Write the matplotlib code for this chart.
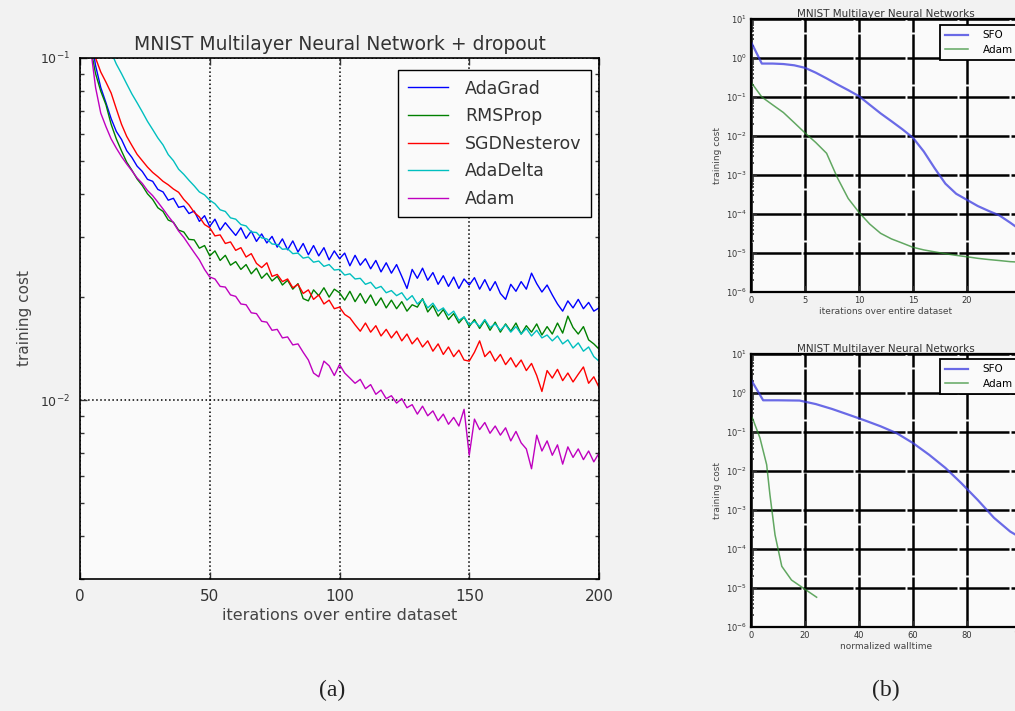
import numpy as np
import matplotlib
matplotlib.use("Agg")
import matplotlib.pyplot as plt
from matplotlib.ticker import LogLocator, NullFormatter

# (a) training cost per epoch, values in units of 1e-3, sampled every 2 epochs
epochs = np.arange(0, 201, 2)

adagrad = [
    260, 168, 118, 95, 82, 74, 66.5, 61, 57.8, 53.6,
    51.2, 48.3, 46.6, 44.2, 43.6, 41.3, 40.6, 38.4, 38.9, 36.6,
    36.9, 35.1, 35.7, 33.3, 34.6, 32.2, 33.8, 31.4, 33.0, 31.6,
    30.3, 31.9, 29.7, 31.2, 29.1, 30.6, 28.8, 30.1, 28.0, 29.6,
    27.5, 29.2, 27.1, 28.7, 26.6, 28.3, 26.4, 27.9, 25.7, 27.3,
    25.9, 26.9, 24.7, 26.5, 24.8, 25.9, 24.2, 25.6, 23.7, 25.2,
    23.5, 24.9, 23.0, 21.2, 24.1, 22.7, 24.3, 22.4, 23.6, 21.8,
    23.1, 21.5, 22.9, 21.2, 22.6, 21.7, 22.8, 21.1, 22.5, 20.9,
    22.2, 20.5, 19.7, 21.8, 20.8, 22.2, 21.1, 23.5, 21.9, 20.7,
    21.7, 20.3, 19.1, 18.2, 19.5, 18.6, 19.7, 18.5, 19.3, 18.2, 18.6,
]
rmsprop = [
    240, 150, 108, 90, 80, 73, 64, 58, 53.5, 49.6,
    47.0, 44.3, 42.4, 40.1, 38.6, 36.5, 35.6, 33.6, 33.1, 31.4,
    31.0, 29.5, 29.4, 27.8, 28.3, 26.4, 27.3, 25.6, 26.5, 24.8,
    25.4, 24.1, 24.9, 23.4, 24.3, 22.7, 23.5, 22.3, 23.0, 21.7,
    22.4, 21.1, 21.9, 19.8, 19.5, 21.0, 20.2, 21.3, 20.0, 21.1,
    20.6, 19.6, 20.8, 19.4, 20.5, 19.2, 20.3, 18.9, 19.9, 18.6,
    19.6, 18.5, 19.4, 18.2, 19.0, 18.7, 19.8, 18.1, 18.9, 17.6,
    18.4, 17.2, 17.9, 16.8, 17.5, 16.4, 17.2, 16.2, 17.1, 16.0,
    16.9, 15.8, 16.7, 15.9, 16.8, 15.6, 16.5, 15.8, 16.7, 15.5,
    16.4, 15.6, 16.8, 15.7, 17.6, 16.3, 15.6, 16.4, 15.0, 14.6, 14.1,
]
sgd_nesterov = [
    250, 165, 118, 100, 91, 85, 79, 71, 64, 59,
    55.5, 52.3, 50.1, 48.0, 46.3, 45.0, 43.6, 42.6, 41.4, 40.5,
    38.6, 37.2, 35.4, 34.3, 32.6, 31.9, 30.2, 30.4, 28.7, 29.0,
    27.4, 27.9, 26.2, 26.8, 25.1, 24.4, 25.2, 23.0, 23.3, 22.2,
    22.6, 21.3, 21.8, 20.5, 21.0, 19.7, 20.3, 19.1, 19.6, 18.5,
    18.7, 17.8, 17.4, 16.6, 15.9, 16.8, 15.8, 16.5, 15.4, 16.1,
    15.2, 15.9, 14.9, 15.6, 14.6, 15.2, 14.3, 14.9, 13.9, 14.6,
    13.6, 14.3, 13.4, 14.0, 13.1, 13.0, 13.8, 14.9, 13.4, 13.9,
    13.0, 13.6, 12.7, 13.3, 12.5, 13.1, 12.2, 12.8, 11.8, 10.6,
    12.2, 11.6, 12.3, 11.4, 12.0, 11.3, 11.9, 12.5, 11.2, 11.7, 10.9,
]
adadelta = [
    400, 260, 185, 150, 128, 114, 104, 96, 90, 84,
    78.5, 74.0, 69.6, 65.3, 61.8, 58.4, 55.7, 52.2, 50.1, 47.3,
    45.7, 43.9, 42.3, 40.6, 39.8, 38.4, 37.5, 36.0, 35.6, 34.1,
    33.8, 32.6, 32.3, 31.0, 30.9, 29.8, 29.6, 28.6, 28.5, 27.6,
    27.7, 26.8, 26.9, 26.0, 26.2, 25.3, 25.5, 24.6, 24.9, 24.0,
    24.1, 23.2, 23.4, 22.6, 22.7, 21.8, 22.1, 21.2, 21.5, 20.6,
    20.9, 20.2, 20.6, 19.6, 20.2, 19.1, 19.7, 18.6, 19.2, 18.2,
    18.6, 17.7, 18.2, 17.1, 17.5, 16.6, 17.0, 16.4, 17.2, 16.3,
    16.7, 16.0, 16.6, 15.8, 16.4, 15.6, 16.2, 15.4, 16.0, 15.2,
    15.5, 14.9, 15.4, 14.6, 15.0, 14.2, 14.7, 13.9, 14.3, 13.4, 13.0,
]
adam = [
    220, 150, 108, 82, 69, 63, 58, 54.5, 51.5, 49.0,
    46.8, 44.6, 43.0, 41.0, 39.6, 37.9, 36.2, 34.5, 33.0, 31.2,
    29.9, 28.4, 27.0, 25.7, 24.1, 22.9, 22.6, 21.5, 21.4, 20.3,
    20.1, 19.1, 19.0, 18.0, 17.9, 17.0, 16.9, 16.0, 16.1, 15.2,
    15.3, 14.5, 14.6, 13.8, 13.1, 12.0, 11.7, 13.0, 12.6, 11.8,
    12.7, 12.0, 11.6, 11.2, 11.5, 10.8, 11.1, 10.4, 10.7, 10.1,
    10.3, 9.8, 10.1, 9.5, 9.7, 9.1, 9.6, 9.0, 9.3, 8.7,
    9.1, 8.5, 8.9, 8.4, 9.4, 6.9, 8.8, 8.2, 8.6, 8.0,
    8.4, 7.9, 8.3, 7.6, 8.1, 7.5, 7.2, 6.3, 7.9, 7.1,
    7.6, 6.9, 7.4, 6.5, 7.3, 6.8, 7.2, 6.7, 7.1, 6.6, 7.0,
]
series_a = [
    ("AdaGrad", adagrad, "b"),
    ("RMSProp", rmsprop, "g"),
    ("SGDNesterov", sgd_nesterov, "r"),
    ("AdaDelta", adadelta, "c"),
    ("Adam", adam, "m"),
]

# (b) SFO vs Adam, against epochs and against walltime
sfo_epochs = [0, 1, 2, 3, 4, 5, 6, 7, 8, 9, 10, 11, 12, 13, 14, 15, 16, 17,
              18, 19, 20, 21, 22, 23, 24, 25]
sfo_cost_epochs = [2.6, 0.72, 0.72, 0.70, 0.65, 0.56, 0.42, 0.30, 0.21, 0.15,
                   0.105, 0.063, 0.038, 0.024, 0.015, 0.009, 0.004, 0.0015,
                   6.0e-4, 3.3e-4, 2.3e-4, 1.6e-4, 1.2e-4, 9.2e-5, 6.0e-5, 3.8e-5]
adam_epochs = [0, 1, 2, 3, 4, 5, 6, 7, 8, 9, 10, 11, 12, 13, 14, 15, 16, 17,
               18, 19, 20, 21, 22, 23, 24, 25]
adam_cost_epochs = [0.24, 0.10, 0.063, 0.040, 0.022, 0.012, 0.0068, 0.0036,
                    8.5e-4, 2.5e-4, 1.1e-4, 5.5e-5, 3.2e-5, 2.3e-5, 1.8e-5,
                    1.4e-5, 1.2e-5, 1.07e-5, 9.6e-6, 8.7e-6, 8.0e-6, 7.3e-6,
                    6.8e-6, 6.4e-6, 6.0e-6, 5.8e-6]

sfo_walltime = [0, 4.5, 10, 18, 24, 30, 36, 42, 48, 54, 60, 66, 72, 78, 84,
                90, 96, 102]
sfo_cost_walltime = [2.2, 0.65, 0.65, 0.64, 0.52, 0.39, 0.28, 0.20, 0.14, 0.093,
                     0.052, 0.026, 0.012, 0.0048, 0.0018, 6.3e-4, 2.8e-4, 1.6e-4]
adam_walltime = [0.5, 3.3, 5.8, 7, 8.9, 11.4, 15, 19.3, 24.3]
adam_cost_walltime = [0.23, 0.071, 0.0145, 0.0025, 2.3e-4, 3.6e-5, 1.6e-5,
                      1.0e-5, 5.8e-6]

W, H = 1015, 711
fig = plt.figure(figsize=(W / 100, H / 100), dpi=100, facecolor="#f2f2f2")


def frac(left, top, right, bottom):
    return [left / W, 1 - bottom / H, (right - left) / W, (bottom - top) / H]


# ---- panel (a)
ax = fig.add_axes(frac(80, 58, 599, 579), facecolor="#fafafa")
for name, vals, col in series_a:
    ax.plot(epochs, np.array(vals) * 1e-3, color=col, lw=1.0, label=name)
ax.set_yscale("log")
ax.set_xlim(0, 200)
ax.set_ylim(3e-3, 1e-1)
ax.set_xticks([0, 50, 100, 150, 200])
ax.yaxis.set_major_locator(LogLocator(base=10))
ax.yaxis.set_minor_locator(LogLocator(base=10, subs=np.arange(2, 10)))
ax.yaxis.set_minor_formatter(NullFormatter())
ax.tick_params(which="both", direction="in", top=True, right=True,
               colors="#333333", pad=7)
ax.tick_params(axis="x", labelsize=11)
ax.tick_params(axis="y", labelsize=9)
ax.tick_params(which="major", length=5, width=1)
ax.tick_params(which="minor", length=3, width=1)
ax.grid(True, which="major", color="k", linestyle=":", linewidth=1.1)
for sp in ax.spines.values():
    sp.set_linewidth(1.2)
ax.set_title("MNIST Multilayer Neural Network + dropout", fontsize=13.5,
             color="#333333", pad=6)
ax.set_xlabel("iterations over entire dataset", fontsize=11.5, color="#444444",
              labelpad=3)
ax.set_ylabel("training cost", fontsize=11, color="#444444", labelpad=6)
leg = ax.legend(loc="upper right", bbox_to_anchor=(591 / W, 1 - 70 / H),
                bbox_transform=fig.transFigure, borderaxespad=0,
                fontsize=12.5, labelspacing=0.55, handlelength=2.3,
                handletextpad=1.0, borderpad=0.55, fancybox=False,
                framealpha=1, edgecolor="k")
leg.get_frame().set_facecolor("#fafafa")
leg.get_frame().set_linewidth(1.0)
for t in leg.get_texts():
    t.set_color("#333333")


# ---- panel (b)
def sfo_panel(rect, sfo_x, sfo_y, adam_x, adam_y, xmax, xticks, xlabel,
              legend_top):
    bx = fig.add_axes(rect, facecolor="#fafafa")
    bx.plot(sfo_x, sfo_y, color="#3a3ae0", lw=1.6, alpha=0.75, label="SFO")
    bx.plot(adam_x, adam_y, color="#2e8b2e", lw=1.1, alpha=0.75, label="Adam")
    bx.set_yscale("log")
    bx.set_xlim(0, xmax)
    bx.set_ylim(1e-6, 1e1)
    bx.set_xticks(xticks)
    bx.yaxis.set_major_locator(LogLocator(base=10, numticks=10))
    bx.yaxis.set_minor_locator(LogLocator(base=10, subs=np.arange(2, 10),
                                          numticks=10))
    bx.yaxis.set_minor_formatter(NullFormatter())
    bx.tick_params(which="both", direction="in", labelsize=6, pad=3,
                   colors="#333333")
    bx.tick_params(which="major", length=4, width=1.2)
    bx.tick_params(which="minor", length=2.5, width=1.2)
    bx.grid(True, which="major", color="k", linestyle=(0, (20, 0.8)),
            linewidth=1.8)
    for sp in bx.spines.values():
        sp.set_linewidth(1.6)
    bx.set_title("MNIST Multilayer Neural Networks", fontsize=7.5,
                 color="#333333", pad=1)
    bx.set_xlabel(xlabel, fontsize=6.5, color="#444444", labelpad=1)
    bx.set_ylabel("training cost", fontsize=6.5, color="#444444", labelpad=3)
    lg = bx.legend(loc="upper left", bbox_to_anchor=(940 / W, 1 - legend_top / H),
                   bbox_transform=fig.transFigure, borderaxespad=0,
                   fontsize=7.5, handlelength=2.2, handletextpad=1.4,
                   borderpad=0.5, labelspacing=0.45, fancybox=False,
                   framealpha=1, edgecolor="k")
    lg.get_frame().set_facecolor("#fafafa")
    lg.get_frame().set_linewidth(1.3)
    return bx


sfo_panel(frac(751, 19, 1021, 292), sfo_epochs, sfo_cost_epochs,
          adam_epochs, adam_cost_epochs, 25, [0, 5, 10, 15, 20, 25],
          "iterations over entire dataset", 25)
sfo_panel(frac(751, 354, 1021, 627), sfo_walltime, sfo_cost_walltime,
          adam_walltime, adam_cost_walltime, 100, [0, 20, 40, 60, 80, 100],
          "normalized walltime", 359)

fig.text(332 / W, 1 - 690 / H, "(a)", ha="center", va="center",
         family="Liberation Serif", fontsize=17, color="#222222")
fig.text(886 / W, 1 - 690 / H, "(b)", ha="center", va="center",
         family="Liberation Serif", fontsize=17, color="#222222")

fig.savefig("out.png", dpi=100, facecolor=fig.get_facecolor())
